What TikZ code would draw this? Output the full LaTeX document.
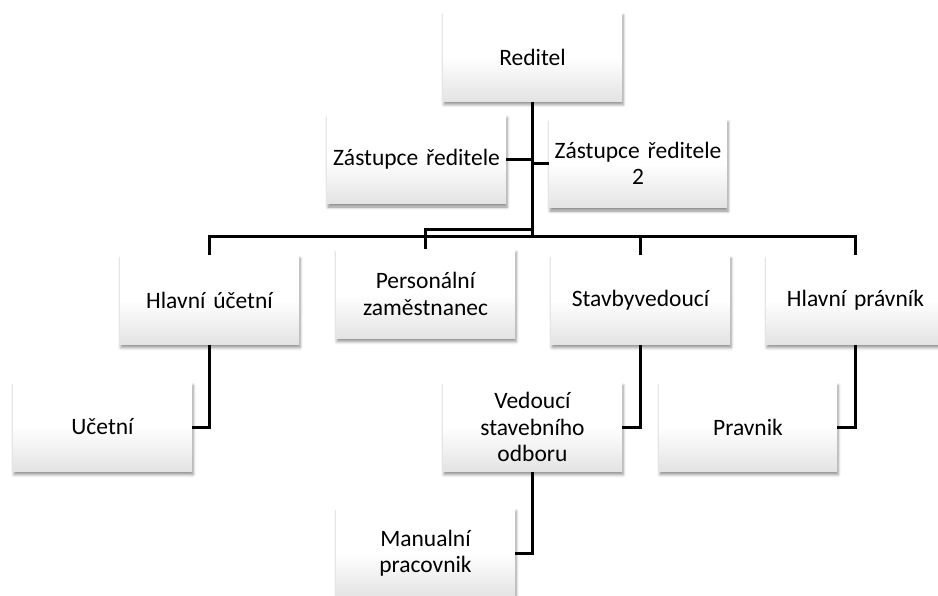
\documentclass[tikz,border=0pt]{standalone}
\usepackage{fontspec}
\setmainfont{Carlito}
\usetikzlibrary{shadows.blur}
\tikzset{
  orgbox/.style={rectangle, minimum width=179pt, minimum height=89pt, inner sep=2pt,
    text width=174pt, align=center, top color=white, bottom color=black!11,
    middle color=white, draw=none,
    blur shadow={shadow xshift=1pt, shadow yshift=-3pt, shadow blur radius=3pt, shadow opacity=45},
    font={\fontsize{23.5pt}{26.5pt}\selectfont}},
  link/.style={line width=3pt, draw=black}
}
\begin{document}
\begin{tikzpicture}[x=1pt,y=-1pt]
\useasboundingbox (0,0) rectangle (938,596);
\node[orgbox] (red) at (532.5,57) {Reditel};
\node[orgbox] (z1) at (416.5,159.5) {Zástupce ředitele};
\node[orgbox, minimum width=178pt] (z2) at (638,163.5) {Zástupce ředitele\\2};
\node[orgbox] (hu) at (209.5,300) {Hlavní účetní};
\node[orgbox] (pe) at (425.5,294) {Personální\\zaměstnanec};
\node[orgbox] (st) at (640.5,300) {Stavbyvedoucí};
\node[orgbox] (hp) at (855.5,300) {Hlavní právník};
\node[orgbox] (uc) at (102.5,427) {Učetní};
\node[orgbox] (ve) at (532.5,427) {Vedoucí\\stavebního\\odboru};
\node[orgbox, minimum width=178pt] (pr) at (748,427) {Pravnik};
\node[orgbox] (ma) at (425.5,553) {Manualní\\pracovnik};
\coordinate (bus) at (532.5,237);
\coordinate (pbus) at (532.5,230);
\draw[link] (red.south) -- (bus);
\draw[link] (z1.east) -- (z1.east -| red.south);
\draw[link] (z2.west) -- (z2.west -| red.south);
\draw[link] (hu.north) |- (bus) -| (hp.north);
\draw[link] (st.north) -- (st.north |- bus);
\draw[link] (pe.north) |- (pbus);
\draw[link] (hu.south) |- (uc.east);
\draw[link] (st.south) |- (ve.east);
\draw[link] (hp.south) |- (pr.east);
\draw[link] (ve.south) |- (ma.east);
\end{tikzpicture}
\end{document}
